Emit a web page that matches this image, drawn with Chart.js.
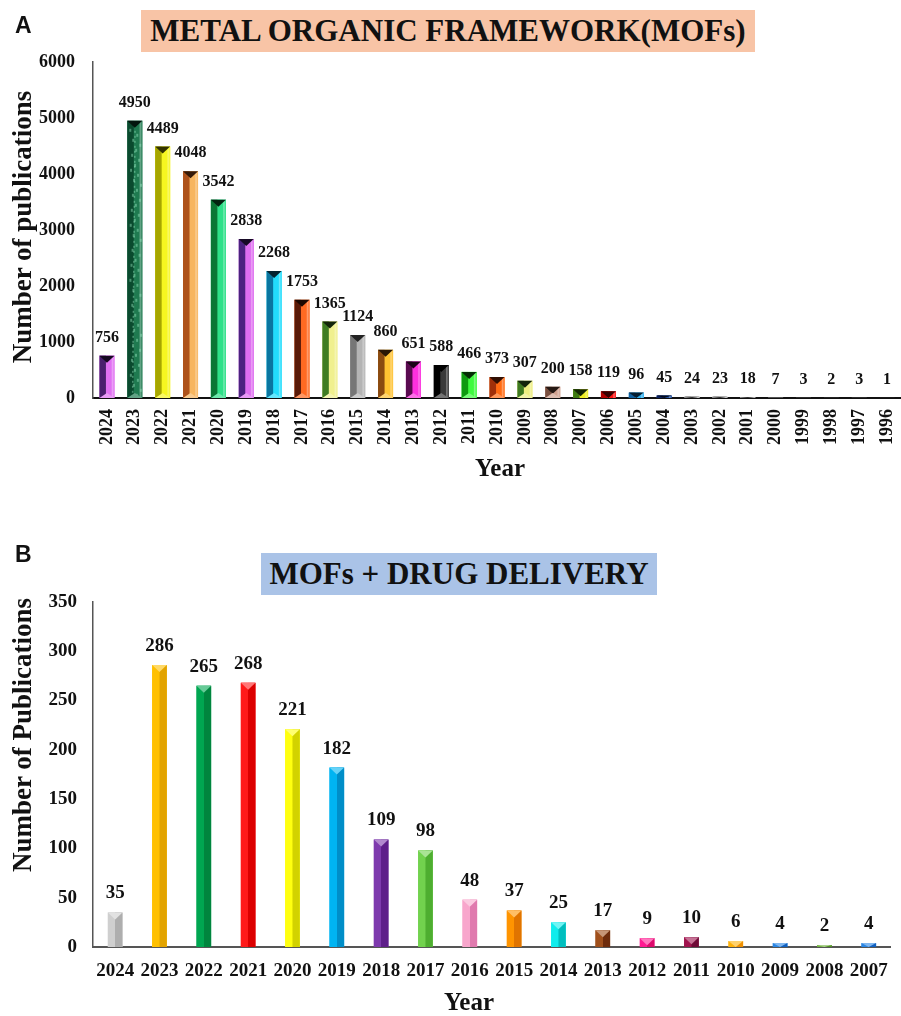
<!DOCTYPE html>
<html>
<head>
<meta charset="utf-8">
<title>MOF publications per year</title>
<script src="https://cdn.jsdelivr.net/npm/chart.js@4.4.1/dist/chart.umd.min.js"></script>
<style>
  html, body { margin: 0; padding: 0; background: #fff; }
  body { width: 901px; height: 1016px; position: relative; overflow: hidden;
         font-family: "Liberation Serif", "Times New Roman", serif; color: #111; }
  .panel { position: absolute; left: 15px; font: bold 23px "Liberation Sans", Arial, sans-serif; color: #111; }
  .banner { position: absolute; height: 42px; line-height: 42px; text-align: center;
            font-weight: bold; font-size: 31px; white-space: nowrap; color: #111; }
  .ytitle { position: absolute; font-weight: bold; font-size: 27px; white-space: nowrap;
            transform: translate(-50%, -50%) rotate(-90deg); }
  .xtitle { position: absolute; font-weight: bold; font-size: 25px; white-space: nowrap;
            transform: translate(-50%, -50%); }
  .wrap { position: absolute; left: 0; width: 901px; }
</style>
</head>
<body>

<div class="wrap" style="top:0; height:490px;"><canvas id="chartA"></canvas></div>
<div class="wrap" style="top:540px; height:476px;"><canvas id="chartB"></canvas></div>

<div class="panel" style="top:12px;">A</div>
<div class="banner" style="left:141px; top:10px; width:614px; background:#F8C4A6;">METAL ORGANIC FRAMEWORK(MOFs)</div>
<div class="ytitle" style="left:22px; top:227px;">Number of publications</div>
<div class="xtitle" style="left:500px; top:468px;">Year</div>

<div class="panel" style="top:541px;">B</div>
<div class="banner" style="left:261px; top:553px; width:396px; background:#AAC3E7;">MOFs + DRUG DELIVERY</div>
<div class="ytitle" style="left:22px; top:735px;">Number of Publications</div>
<div class="xtitle" style="left:469px; top:1002px;">Year</div>

<script>
// ---- data ----
const yearsA = ['2024','2023','2022','2021','2020','2019','2018','2017','2016','2015',
                '2014','2013','2012','2011','2010','2009','2008','2007','2006','2005',
                '2004','2003','2002','2001','2000','1999','1998','1997','1996'];
const pubsA  = [756, 4950, 4489, 4048, 3542, 2838, 2268, 1753, 1365, 1124,
                860, 651, 588, 466, 373, 307, 200, 158, 119, 96,
                45, 24, 23, 18, 7, 3, 2, 3, 1];

const yearsB = ['2024','2023','2022','2021','2020','2019','2018','2017','2016',
                '2015','2014','2013','2012','2011','2010','2009','2008','2007'];
const pubsB  = [35, 286, 265, 268, 221, 182, 109, 98, 48,
                37, 25, 17, 9, 10, 6, 4, 2, 4];

// ---- bar colours: [shadow side, lit side] ----
const shadesA = [
  ['#4A1F6E','#E070F2'], ['#0A4A2E','#1F7A50'], ['#A6A600','#F6F620'], ['#AE521A','#F7B55E'],
  ['#0A7634','#2EE088'], ['#4C2280','#DE6EF0'], ['#0A76A0','#22DDFC'], ['#5A1A08','#FF6A22'],
  ['#3E7C22','#F0F08E'], ['#767676','#B4B4B4'], ['#8A4A10','#FFC232'], ['#5A0A50','#FC30DE'],
  ['#000000','#3A3A3A'], ['#0E9A10','#3EFA3E'], ['#A0300A','#FF6A12'], ['#3E7A20','#EEEE80'],
  ['#7A5040','#D0A08E'], ['#3E7A12','#EEEE22'], ['#B00000','#FF1212'], ['#1060A0','#30B0F0'],
  ['#0A2060','#2452A2'], ['#8A8A8A','#B8B8B8'], ['#8A8A8A','#B8B8B8'], ['#909090','#B8B8B8'],
  ['#909090','#B8B8B8'], ['#909090','#B8B8B8'], ['#909090','#B8B8B8'], ['#909090','#B8B8B8'],
  ['#909090','#B8B8B8']
];
const shadesB = [
  ['#AEAEAE','#CFCFCF'], ['#E2A300','#FFC000'], ['#00853E','#00A651'], ['#DC0000','#FF1A1A'],
  ['#D2D200','#FFFF10'], ['#008EC8','#00B4F2'], ['#5E1E8A','#7E3AAE'], ['#4EAE30','#72D24E'],
  ['#E07AAE','#F8A6CC'], ['#E07400','#FF9400'], ['#00BEBE','#10ECEC'], ['#6E2C0C','#A0501C'],
  ['#DC0A6C','#FF1A92'], ['#6E0A36','#A0144E'], ['#F09000','#FFB20A'], ['#1060C0','#2A86E4'],
  ['#4E9020','#74B444'], ['#1060C0','#2A86E4']
];
// bars drawn with a mottled (speckled) finish
const mottledA = [1];

// ---- helpers ----
function mix(hex, target, t) {
  const a = parseInt(hex.slice(1), 16), b = parseInt(target.slice(1), 16);
  const ch = (v, s) => (v >> s) & 255;
  const r = Math.round(ch(a,16) + (ch(b,16) - ch(a,16)) * t);
  const g = Math.round(ch(a,8)  + (ch(b,8)  - ch(a,8))  * t);
  const bl = Math.round(ch(a,0) + (ch(b,0)  - ch(a,0))  * t);
  return 'rgb(' + r + ',' + g + ',' + bl + ')';
}

// Shades each bar (3-D bevel look) and writes its value above it.
function bevelPlugin(id, shades, look, mottled) {
  return {
    id,
    afterDatasetsDraw(chart) {
      const ctx = chart.ctx;
      const meta = chart.getDatasetMeta(0);
      const values = chart.data.datasets[0].data;
      ctx.save();
      meta.data.forEach((bar, i) => {
        const p = bar.getProps(['x', 'y', 'base', 'width'], true);
        const left = p.x - p.width / 2, h = p.base - p.y;
        const dk = shades[i][0], lt = shades[i][1];
        if (h > 0.6) {
          const g = ctx.createLinearGradient(left, 0, left + p.width, 0);
          if (look === 'A') {
            g.addColorStop(0, dk); g.addColorStop(0.40, dk);
            g.addColorStop(0.47, lt); g.addColorStop(0.78, lt);
            g.addColorStop(0.86, mix(lt, '#FFFFFF', 0.35)); g.addColorStop(1, lt);
          } else {
            g.addColorStop(0, lt); g.addColorStop(0.48, lt);
            g.addColorStop(0.52, dk); g.addColorStop(1, dk);
          }
          ctx.fillStyle = g;
          ctx.fillRect(left, p.y, p.width, h);

          // speckled finish: a fixed lattice of light flecks
          if (mottled && mottled.includes(i)) {
            ctx.fillStyle = 'rgba(150,230,190,0.45)';
            for (let yy = p.y + 8, k = 0; yy < p.base - 4; yy += 5, k++) {
              const fx = left + 2 + ((k * 7) % (p.width - 4));
              ctx.fillRect(fx, yy, 2, 3);
              const fx2 = left + 2 + ((k * 11 + 5) % (p.width - 4));
              ctx.fillRect(fx2, yy + 2, 1.5, 2);
            }
          }

          // top cap
          const cap = Math.min(7, h);
          ctx.beginPath();
          ctx.moveTo(left, p.y);
          ctx.lineTo(left + p.width, p.y);
          ctx.lineTo(p.x, p.y + cap);
          ctx.closePath();
          ctx.fillStyle = look === 'A' ? mix(dk, '#000000', 0.7) : mix(lt, '#FFFFFF', 0.4);
          ctx.fill();

          // bottom bevel
          if (look === 'A' && h > 10) {
            ctx.beginPath();
            ctx.moveTo(left, p.base);
            ctx.lineTo(left + p.width, p.base);
            ctx.lineTo(p.x, p.base - 5);
            ctx.closePath();
            ctx.fillStyle = mix(lt, '#FFFFFF', 0.3);
            ctx.fill();
          }
        }
        // value label
        ctx.fillStyle = '#111';
        ctx.font = look === 'A' ? 'bold 16px "Liberation Serif", serif' : 'bold 19px "Liberation Serif", serif';
        ctx.textAlign = 'center';
        ctx.textBaseline = 'middle';
        ctx.fillText(String(values[i]), p.x, p.y - (look === 'A' ? 18 : 19));
      });
      ctx.restore();
    }
  };
}

const serif = '"Liberation Serif", "Times New Roman", serif';
const plainNumber = v => String(v);

// ---- panel A ----
new Chart(document.getElementById('chartA'), {
  type: 'bar',
  data: {
    labels: yearsA,
    datasets: [{
      data: pubsA,
      backgroundColor: shadesA.map(s => s[1]),
      borderWidth: 0,
      barPercentage: 0.54,
      categoryPercentage: 1.0
    }]
  },
  options: {
    responsive: true,
    maintainAspectRatio: false,
    animation: false,
    layout: { padding: { top: 62, left: 0, right: 0, bottom: 0 } },
    plugins: { legend: { display: false }, tooltip: { enabled: false }, title: { display: false } },
    scales: {
      x: {
        grid: { display: false, drawTicks: false },
        border: { display: true, color: '#111', width: 2 },
        ticks: {
          color: '#111', font: { family: serif, weight: 'bold', size: 18 },
          minRotation: 90, maxRotation: 90, autoSkip: false, padding: 11
        },
        afterFit(scale) { scale.height = 92; scale.paddingLeft = 0; scale.paddingRight = 0; }
      },
      y: {
        min: 0, max: 6000,
        grid: { display: false, drawTicks: false },
        border: { display: true, color: '#555', width: 1.5 },
        ticks: {
          stepSize: 1000, color: '#111', padding: 18, callback: plainNumber,
          font: { family: serif, weight: 'bold', size: 18 }
        },
        afterFit(scale) { scale.width = 93; }
      }
    }
  },
  plugins: [bevelPlugin('bevelA', shadesA, 'A', mottledA)]
});

// ---- panel B ----
new Chart(document.getElementById('chartB'), {
  type: 'bar',
  data: {
    labels: yearsB,
    datasets: [{
      data: pubsB,
      backgroundColor: shadesB.map(s => s[1]),
      borderWidth: 0,
      barPercentage: 0.33,
      categoryPercentage: 1.0
    }]
  },
  options: {
    responsive: true,
    maintainAspectRatio: false,
    animation: false,
    layout: { padding: { top: 62, left: 0, right: 8, bottom: 0 } },
    plugins: { legend: { display: false }, tooltip: { enabled: false }, title: { display: false } },
    scales: {
      x: {
        grid: { display: false, drawTicks: false },
        border: { display: true, color: '#555', width: 2 },
        ticks: {
          color: '#111', font: { family: serif, weight: 'bold', size: 19 },
          minRotation: 0, maxRotation: 0, autoSkip: false, padding: 13
        },
        afterFit(scale) { scale.height = 69; }
      },
      y: {
        min: 0, max: 350,
        grid: { display: false, drawTicks: false },
        border: { display: true, color: '#555', width: 1.5 },
        ticks: {
          stepSize: 50, color: '#111', padding: 16, callback: plainNumber,
          font: { family: serif, weight: 'bold', size: 19 }
        },
        afterFit(scale) { scale.width = 93; }
      }
    }
  },
  plugins: [bevelPlugin('bevelB', shadesB, 'B')]
});
</script>
</body>
</html>
